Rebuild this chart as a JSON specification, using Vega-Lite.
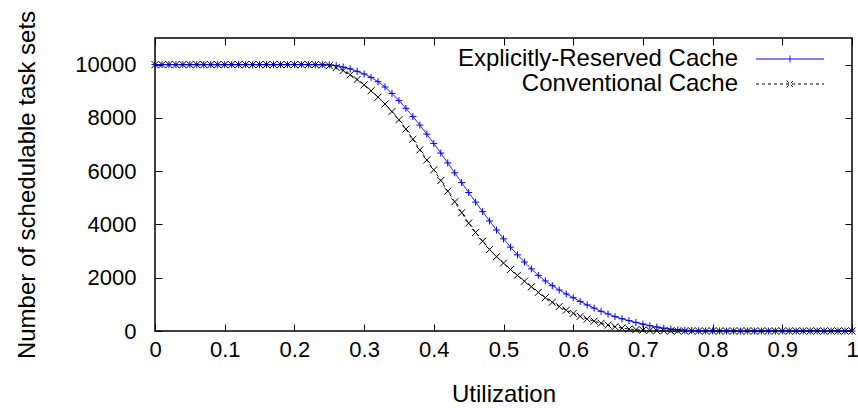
{
  "$schema": "https://vega.github.io/schema/vega-lite/v6.json",
  "width": 697,
  "height": 293,
  "autosize": {"type": "none"},
  "padding": {"left": 155, "top": 38, "right": 6, "bottom": 77},
  "config": {
    "font": "Liberation Sans",
    "view": {"stroke": "black", "strokeWidth": 1.5},
    "axis": {"grid": false, "domain": false, "tickColor": "black", "tickSize": -7, "tickWidth": 1, "labelColor": "black", "labelFontSize": 22, "titleFontSize": 24, "titleFontWeight": "normal", "titleColor": "black", "labelFont": "Liberation Sans", "titleFont": "Liberation Sans"},
    "legend": {"orient": "none", "legendX": 623, "legendY": 9, "padding": 0, "symbolType": "M-4,0L4,0", "symbolSize": 289, "symbolStrokeWidth": 1, "labelFontSize": 24, "labelColor": "black", "labelFont": "Liberation Sans", "labelAlign": "right", "labelOffset": -64, "rowPadding": 1, "labelLimit": 400}
  },
  "data": {"values": [
    {"u":0.00,"Explicitly-Reserved Cache":10000,"Conventional Cache":10000},
    {"u":0.01,"Explicitly-Reserved Cache":10000,"Conventional Cache":10000},
    {"u":0.02,"Explicitly-Reserved Cache":10000,"Conventional Cache":10000},
    {"u":0.03,"Explicitly-Reserved Cache":10000,"Conventional Cache":10000},
    {"u":0.04,"Explicitly-Reserved Cache":10000,"Conventional Cache":10000},
    {"u":0.05,"Explicitly-Reserved Cache":10000,"Conventional Cache":10000},
    {"u":0.06,"Explicitly-Reserved Cache":10000,"Conventional Cache":10000},
    {"u":0.07,"Explicitly-Reserved Cache":10000,"Conventional Cache":10000},
    {"u":0.08,"Explicitly-Reserved Cache":10000,"Conventional Cache":10000},
    {"u":0.09,"Explicitly-Reserved Cache":10000,"Conventional Cache":10000},
    {"u":0.10,"Explicitly-Reserved Cache":10000,"Conventional Cache":10000},
    {"u":0.11,"Explicitly-Reserved Cache":10000,"Conventional Cache":10000},
    {"u":0.12,"Explicitly-Reserved Cache":10000,"Conventional Cache":10000},
    {"u":0.13,"Explicitly-Reserved Cache":10000,"Conventional Cache":10000},
    {"u":0.14,"Explicitly-Reserved Cache":10000,"Conventional Cache":10000},
    {"u":0.15,"Explicitly-Reserved Cache":10000,"Conventional Cache":10000},
    {"u":0.16,"Explicitly-Reserved Cache":10000,"Conventional Cache":10000},
    {"u":0.17,"Explicitly-Reserved Cache":10000,"Conventional Cache":10000},
    {"u":0.18,"Explicitly-Reserved Cache":10000,"Conventional Cache":10000},
    {"u":0.19,"Explicitly-Reserved Cache":10000,"Conventional Cache":10000},
    {"u":0.20,"Explicitly-Reserved Cache":10000,"Conventional Cache":10000},
    {"u":0.21,"Explicitly-Reserved Cache":10000,"Conventional Cache":10000},
    {"u":0.22,"Explicitly-Reserved Cache":10000,"Conventional Cache":10000},
    {"u":0.23,"Explicitly-Reserved Cache":10000,"Conventional Cache":10000},
    {"u":0.24,"Explicitly-Reserved Cache":10000,"Conventional Cache":9990},
    {"u":0.25,"Explicitly-Reserved Cache":9990,"Conventional Cache":9960},
    {"u":0.26,"Explicitly-Reserved Cache":9960,"Conventional Cache":9890},
    {"u":0.27,"Explicitly-Reserved Cache":9910,"Conventional Cache":9780},
    {"u":0.28,"Explicitly-Reserved Cache":9840,"Conventional Cache":9620},
    {"u":0.29,"Explicitly-Reserved Cache":9750,"Conventional Cache":9440},
    {"u":0.30,"Explicitly-Reserved Cache":9650,"Conventional Cache":9240},
    {"u":0.31,"Explicitly-Reserved Cache":9520,"Conventional Cache":9020},
    {"u":0.32,"Explicitly-Reserved Cache":9360,"Conventional Cache":8780},
    {"u":0.33,"Explicitly-Reserved Cache":9160,"Conventional Cache":8520},
    {"u":0.34,"Explicitly-Reserved Cache":8920,"Conventional Cache":8240},
    {"u":0.35,"Explicitly-Reserved Cache":8650,"Conventional Cache":7930},
    {"u":0.36,"Explicitly-Reserved Cache":8360,"Conventional Cache":7580},
    {"u":0.37,"Explicitly-Reserved Cache":8050,"Conventional Cache":7200},
    {"u":0.38,"Explicitly-Reserved Cache":7730,"Conventional Cache":6800},
    {"u":0.39,"Explicitly-Reserved Cache":7390,"Conventional Cache":6420},
    {"u":0.40,"Explicitly-Reserved Cache":7040,"Conventional Cache":6050},
    {"u":0.41,"Explicitly-Reserved Cache":6680,"Conventional Cache":5650},
    {"u":0.42,"Explicitly-Reserved Cache":6310,"Conventional Cache":5250},
    {"u":0.43,"Explicitly-Reserved Cache":5940,"Conventional Cache":4850},
    {"u":0.44,"Explicitly-Reserved Cache":5570,"Conventional Cache":4440},
    {"u":0.45,"Explicitly-Reserved Cache":5200,"Conventional Cache":4050},
    {"u":0.46,"Explicitly-Reserved Cache":4840,"Conventional Cache":3700},
    {"u":0.47,"Explicitly-Reserved Cache":4480,"Conventional Cache":3370},
    {"u":0.48,"Explicitly-Reserved Cache":4130,"Conventional Cache":3060},
    {"u":0.49,"Explicitly-Reserved Cache":3790,"Conventional Cache":2790},
    {"u":0.50,"Explicitly-Reserved Cache":3460,"Conventional Cache":2550},
    {"u":0.51,"Explicitly-Reserved Cache":3150,"Conventional Cache":2310},
    {"u":0.52,"Explicitly-Reserved Cache":2860,"Conventional Cache":2090},
    {"u":0.53,"Explicitly-Reserved Cache":2590,"Conventional Cache":1870},
    {"u":0.54,"Explicitly-Reserved Cache":2330,"Conventional Cache":1660},
    {"u":0.55,"Explicitly-Reserved Cache":2090,"Conventional Cache":1450},
    {"u":0.56,"Explicitly-Reserved Cache":1880,"Conventional Cache":1250},
    {"u":0.57,"Explicitly-Reserved Cache":1700,"Conventional Cache":1080},
    {"u":0.58,"Explicitly-Reserved Cache":1540,"Conventional Cache":920},
    {"u":0.59,"Explicitly-Reserved Cache":1390,"Conventional Cache":780},
    {"u":0.60,"Explicitly-Reserved Cache":1250,"Conventional Cache":660},
    {"u":0.61,"Explicitly-Reserved Cache":1110,"Conventional Cache":550},
    {"u":0.62,"Explicitly-Reserved Cache":980,"Conventional Cache":450},
    {"u":0.63,"Explicitly-Reserved Cache":860,"Conventional Cache":370},
    {"u":0.64,"Explicitly-Reserved Cache":740,"Conventional Cache":290},
    {"u":0.65,"Explicitly-Reserved Cache":640,"Conventional Cache":220},
    {"u":0.66,"Explicitly-Reserved Cache":540,"Conventional Cache":160},
    {"u":0.67,"Explicitly-Reserved Cache":460,"Conventional Cache":110},
    {"u":0.68,"Explicitly-Reserved Cache":390,"Conventional Cache":75},
    {"u":0.69,"Explicitly-Reserved Cache":320,"Conventional Cache":50},
    {"u":0.70,"Explicitly-Reserved Cache":260,"Conventional Cache":32},
    {"u":0.71,"Explicitly-Reserved Cache":200,"Conventional Cache":20},
    {"u":0.72,"Explicitly-Reserved Cache":150,"Conventional Cache":12},
    {"u":0.73,"Explicitly-Reserved Cache":105,"Conventional Cache":7},
    {"u":0.74,"Explicitly-Reserved Cache":70,"Conventional Cache":4},
    {"u":0.75,"Explicitly-Reserved Cache":45,"Conventional Cache":2},
    {"u":0.76,"Explicitly-Reserved Cache":28,"Conventional Cache":1},
    {"u":0.77,"Explicitly-Reserved Cache":17,"Conventional Cache":0},
    {"u":0.78,"Explicitly-Reserved Cache":10,"Conventional Cache":0},
    {"u":0.79,"Explicitly-Reserved Cache":6,"Conventional Cache":0},
    {"u":0.80,"Explicitly-Reserved Cache":3,"Conventional Cache":0},
    {"u":0.81,"Explicitly-Reserved Cache":2,"Conventional Cache":0},
    {"u":0.82,"Explicitly-Reserved Cache":1,"Conventional Cache":0},
    {"u":0.83,"Explicitly-Reserved Cache":0,"Conventional Cache":0},
    {"u":0.84,"Explicitly-Reserved Cache":0,"Conventional Cache":0},
    {"u":0.85,"Explicitly-Reserved Cache":0,"Conventional Cache":0},
    {"u":0.86,"Explicitly-Reserved Cache":0,"Conventional Cache":0},
    {"u":0.87,"Explicitly-Reserved Cache":0,"Conventional Cache":0},
    {"u":0.88,"Explicitly-Reserved Cache":0,"Conventional Cache":0},
    {"u":0.89,"Explicitly-Reserved Cache":0,"Conventional Cache":0},
    {"u":0.90,"Explicitly-Reserved Cache":0,"Conventional Cache":0},
    {"u":0.91,"Explicitly-Reserved Cache":0,"Conventional Cache":0},
    {"u":0.92,"Explicitly-Reserved Cache":0,"Conventional Cache":0},
    {"u":0.93,"Explicitly-Reserved Cache":0,"Conventional Cache":0},
    {"u":0.94,"Explicitly-Reserved Cache":0,"Conventional Cache":0},
    {"u":0.95,"Explicitly-Reserved Cache":0,"Conventional Cache":0},
    {"u":0.96,"Explicitly-Reserved Cache":0,"Conventional Cache":0},
    {"u":0.97,"Explicitly-Reserved Cache":0,"Conventional Cache":0},
    {"u":0.98,"Explicitly-Reserved Cache":0,"Conventional Cache":0},
    {"u":0.99,"Explicitly-Reserved Cache":0,"Conventional Cache":0},
    {"u":1.00,"Explicitly-Reserved Cache":0,"Conventional Cache":0}
  ]},
  "transform": [{"fold": ["Explicitly-Reserved Cache", "Conventional Cache"], "as": ["series", "n"]}],
  "resolve": {"axis": {"x": "independent", "y": "independent"}},
  "layer": [
    {
      "mark": {"type": "line", "strokeWidth": 1},
      "encoding": {
        "x": {"field": "u", "type": "quantitative", "scale": {"domain": [0, 1], "nice": false},
              "axis": {"orient": "bottom", "values": [0, 0.1, 0.2, 0.3, 0.4, 0.5, 0.6, 0.7, 0.8, 0.9, 1], "format": "~g", "title": "Utilization", "labelPadding": 15, "titlePadding": 22, "labelFlush": false}},
        "y": {"field": "n", "type": "quantitative", "scale": {"domain": [0, 11000], "nice": false},
              "axis": {"orient": "left", "values": [0, 2000, 4000, 6000, 8000, 10000], "format": "d", "title": "Number of schedulable task sets", "labelPadding": 26, "titlePadding": 35}},
        "color": {"field": "series", "type": "nominal",
                  "scale": {"domain": ["Explicitly-Reserved Cache", "Conventional Cache"], "range": ["#0000ff", "#000000"]},
                  "legend": {"title": null,
                             "encode": {"symbols": {"update": {
                               "shape": {"signal": "datum.value === 'Conventional Cache' ? 'M-4,0L4,0M-0.4,-0.4L0.4,0.4M-0.4,0.4L0.4,-0.4' : 'M-4,0L4,0M0,-0.4L0,0.4'"},
                               "stroke": {"signal": "datum.value === 'Conventional Cache' ? '#000000' : '#0000ff'"}}}}}},
        "strokeDash": {"field": "series", "type": "nominal",
                       "scale": {"domain": ["Explicitly-Reserved Cache", "Conventional Cache"], "range": [[1, 0], [3, 3]]}, "legend": null}
      }
    },
    {
      "mark": {"type": "point", "filled": false, "size": 49, "strokeWidth": 1, "opacity": 1},
      "encoding": {
        "x": {"field": "u", "type": "quantitative",
              "axis": {"orient": "top", "values": [0, 0.1, 0.2, 0.3, 0.4, 0.5, 0.6, 0.7, 0.8, 0.9, 1], "labels": false, "title": null}},
        "y": {"field": "n", "type": "quantitative",
              "axis": {"orient": "right", "values": [0, 2000, 4000, 6000, 8000, 10000], "labels": false, "title": null}},
        "stroke": {"condition": {"test": "datum.series === 'Conventional Cache'", "value": "#000000"}, "value": "#0000ff"},
        "shape": {"condition": {"test": "datum.series === 'Conventional Cache'", "value": "M-1,-1L1,1M-1,1L1,-1"}, "value": "M-1,0L1,0M0,-1L0,1"}
      }
    }
  ]
}
